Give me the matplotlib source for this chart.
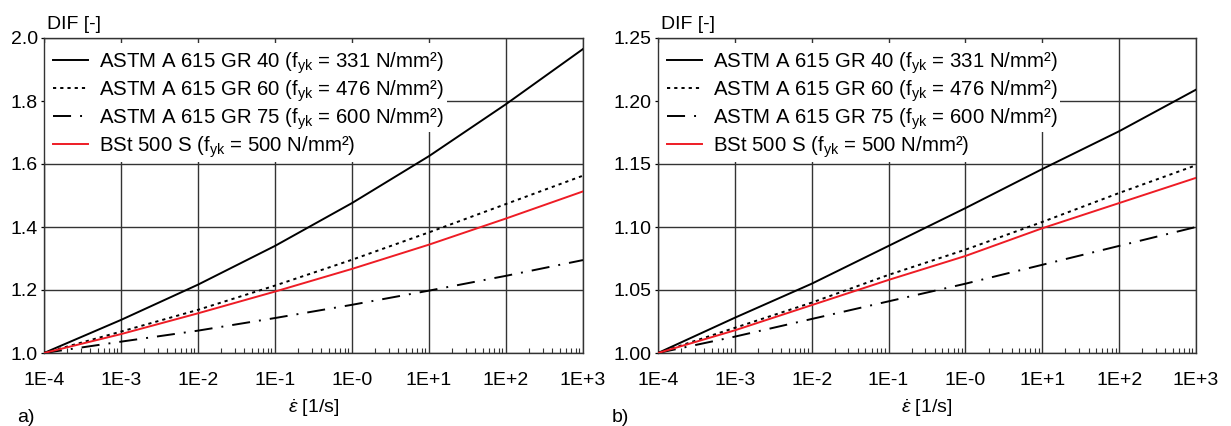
import numpy as np
import matplotlib
matplotlib.use('Agg')
import matplotlib.pyplot as plt
from matplotlib.patches import Rectangle
from matplotlib.ticker import LogLocator, FixedLocator, NullFormatter

plt.rcParams['font.family'] = ['Liberation Sans', 'DejaVu Sans']
plt.rcParams['mathtext.fontset'] = 'custom'
plt.rcParams['mathtext.rm'] = 'Liberation Sans'
plt.rcParams['mathtext.it'] = 'Liberation Sans:italic'
plt.rcParams['lines.scale_dashes'] = False

## data (DIF at every decade of strain rate)
strain_rate = [1e-4, 1e-3, 1e-2, 1e-1, 1e0, 1e1, 1e2, 1e3]
xtick_labels = ['1E-4', '1E-3', '1E-2', '1E-1', '1E-0', '1E+1', '1E+2', '1E+3']

# panel a)
gr40_a = [1.000, 1.105, 1.217, 1.340, 1.476, 1.625, 1.790, 1.965]
gr60_a = [1.000, 1.068, 1.137, 1.214, 1.296, 1.383, 1.473, 1.563]
gr75_a = [1.000, 1.036, 1.071, 1.111, 1.153, 1.198, 1.245, 1.295]
bst_a = [1.000, 1.060, 1.126, 1.195, 1.267, 1.344, 1.427, 1.513]
yticks_a = [1.0, 1.2, 1.4, 1.6, 1.8, 2.0]
ytick_labels_a = ['1.0', '1.2', '1.4', '1.6', '1.8', '2.0']

# panel b)
gr40_b = [1.000, 1.028, 1.055, 1.085, 1.115, 1.146, 1.176, 1.209]
gr60_b = [1.000, 1.020, 1.040, 1.062, 1.082, 1.104, 1.127, 1.149]
gr75_b = [1.000, 1.013, 1.027, 1.041, 1.055, 1.070, 1.085, 1.100]
bst_b = [1.000, 1.018, 1.038, 1.058, 1.077, 1.099, 1.119, 1.139]
yticks_b = [1.00, 1.05, 1.10, 1.15, 1.20, 1.25]
ytick_labels_b = ['1.00', '1.05', '1.10', '1.15', '1.20', '1.25']

labels = ['ASTM A 615 GR 40 (f$_\\mathregular{yk}$ = 331 N/mm²)',
          'ASTM A 615 GR 60 (f$_\\mathregular{yk}$ = 476 N/mm²)',
          'ASTM A 615 GR 75 (f$_\\mathregular{yk}$ = 600 N/mm²)',
          'BSt 500 S (f$_\\mathregular{yk}$ = 500 N/mm²)']

red = '#ee1c25'
lw = 1.4
dotted = (0, (2.3, 2.9))
dashdot = (0, (13, 6.5, 1.4, 6.5))
fs = 14

fig = plt.figure(figsize=(12.31, 4.26), dpi=100)
ax_a = fig.add_axes([44/1231, 1 - 353/426, 539/1231, 315/426])
ax_b = fig.add_axes([658/1231, 1 - 353/426, 538/1231, 315/426])


def draw_panel(ax, series, yticks, ylabels):
    gr40, gr60, gr75, bst = series
    ax.plot(strain_rate, gr40, color='black', lw=lw, label=labels[0], zorder=3)
    ax.plot(strain_rate, gr60, color='black', lw=lw, ls=dotted, label=labels[1], zorder=3)
    ax.plot(strain_rate, gr75, color='black', lw=lw, ls=dashdot, label=labels[2], zorder=3)
    ax.plot(strain_rate, bst, color=red, lw=lw, label=labels[3], zorder=3)

    ax.set_xscale('log')
    ax.set_xlim(strain_rate[0], strain_rate[-1])
    ax.set_ylim(yticks[0], yticks[-1])
    ax.xaxis.set_major_locator(FixedLocator(strain_rate))
    ax.set_xticklabels(xtick_labels, fontsize=fs)
    ax.xaxis.set_minor_locator(LogLocator(base=10, subs=np.arange(2, 10), numticks=20))
    ax.xaxis.set_minor_formatter(NullFormatter())
    ax.set_yticks(yticks)
    ax.set_yticklabels(ylabels, fontsize=fs)
    ax.tick_params(axis='x', which='major', direction='in', length=0, pad=14)
    ax.tick_params(axis='x', which='minor', direction='in', length=3.5, width=0.8, color='#333333')
    ax.tick_params(axis='y', which='major', direction='out', length=2.5, width=0.9, pad=2)
    ax.grid(True, which='major', color='#333333', lw=1.0, zorder=0)
    ax.set_axisbelow(True)
    for s in ax.spines.values():
        s.set_linewidth(1.0)
        s.set_color('#333333')

    ax.set_xlabel(r'$\dot{\varepsilon}$ [1/s]', fontsize=fs, labelpad=6)
    ax.text(0.005, 1.03, 'DIF [-]', transform=ax.transAxes, fontsize=fs,
            ha='left', va='baseline')

    # white patches behind the legend texts hide the grid (stepped, last entry is shorter)
    ax.add_patch(Rectangle((0, 0.702), 0.748, 0.282, transform=ax.transAxes,
                           facecolor='white', edgecolor='none', zorder=2))
    ax.add_patch(Rectangle((0, 0.606), 0.59, 0.1, transform=ax.transAxes,
                           facecolor='white', edgecolor='none', zorder=2))

    leg = ax.legend(loc='upper left', bbox_to_anchor=(0, 0.99), borderaxespad=0.15,
                    fontsize=14.7, handlelength=1.7, handletextpad=0.55,
                    labelspacing=0.12, borderpad=0.3, frameon=False)
    leg.set_zorder(4)


draw_panel(ax_a, (gr40_a, gr60_a, gr75_a, bst_a), yticks_a, ytick_labels_a)
draw_panel(ax_b, (gr40_b, gr60_b, gr75_b, bst_b), yticks_b, ytick_labels_b)

fig.text(17/1231, 1 - 417/426, 'a)', fontsize=fs, va='center', ha='left')
fig.text(612/1231, 1 - 417/426, 'b)', fontsize=fs, va='center', ha='left')

fig.savefig('out.png', dpi=100)
